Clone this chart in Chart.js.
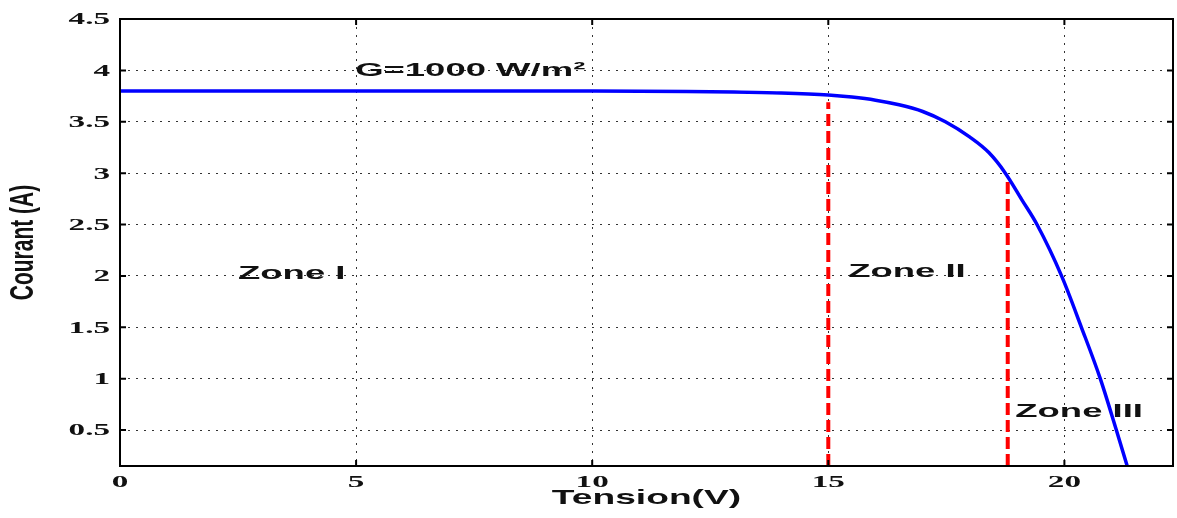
<!DOCTYPE html>
<html>
<head>
<meta charset="utf-8">
<script src="https://cdn.jsdelivr.net/npm/chart.js@4"></script>
<style>
  html, body { margin: 0; padding: 0; background: #fff; }
  #wrap { width: 1177px; height: 518px; }
</style>
</head>
<body>
<div id="wrap"><canvas id="ivChart"></canvas></div>
<script>
// I-V curve
const tension = [0, 5, 10, 12, 13, 14, 15, 15.5, 16, 16.5, 17, 17.48, 18, 18.4, 18.75, 19.1, 19.42, 19.94, 20.36, 20.76, 21.1, 21.33, 21.38];
const courant = [3.8, 3.8, 3.799, 3.795, 3.79, 3.78, 3.76, 3.74, 3.71, 3.665, 3.6, 3.5, 3.35, 3.2, 3.0, 2.74, 2.5, 2.0, 1.5, 1.0, 0.5, 0.15, 0.07];

// zone limits (red dashed lines)
const limitX = [15, 18.8];
const limitTop = [3.69, 2.93];

const xTicks = [0, 5, 10, 15, 20];
const yTicks = [0.5, 1, 1.5, 2, 2.5, 3, 3.5, 4, 4.5];
const xRange = [0, 22.3];
const yRange = [0.15, 4.5];

const labels = [
  { text: "G=1000 W/m²", x: 4.98, y: 4.0 },
  { text: "Zone I", x: 2.5, y: 2.02 },
  { text: "Zone II", x: 15.42, y: 2.04 },
  { text: "Zone III", x: 18.96, y: 0.68 }
];

const curve = tension.map((v, i) => ({ x: v, y: courant[i] }));
const limitSets = limitX.map((v, i) => ({
  data: [{ x: v, y: yRange[0] }, { x: v, y: limitTop[i] }],
  borderColor: "#ff0000",
  borderWidth: 4,
  borderDash: [12, 5],
  pointRadius: 0
}));

// the picture is stretched sideways, so text is too
function wideText(ctx, text, x, y, sx, align) {
  ctx.save();
  ctx.translate(x, y);
  ctx.scale(sx, 1);
  ctx.textAlign = align;
  ctx.fillText(text, 0, 0);
  ctx.restore();
}

const SANS = "'Liberation Sans', Arial, sans-serif";
const SERIF = "'Liberation Serif', 'Times New Roman', serif";

// box, inward ticks, labels and annotations
const framePlugin = {
  id: "frame",
  afterDraw(chart) {
    const ctx = chart.ctx;
    const a = chart.chartArea;
    const xs = chart.scales.x, ys = chart.scales.y;
    ctx.save();
    ctx.strokeStyle = "#000";
    ctx.lineWidth = 2;
    ctx.strokeRect(a.left, a.top, a.right - a.left, a.bottom - a.top);
    ctx.beginPath();
    xTicks.forEach(v => {
      const px = xs.getPixelForValue(v);
      ctx.moveTo(px, a.bottom); ctx.lineTo(px, a.bottom - 6);
      ctx.moveTo(px, a.top); ctx.lineTo(px, a.top + 6);
    });
    yTicks.forEach(v => {
      const py = ys.getPixelForValue(v);
      ctx.moveTo(a.left, py); ctx.lineTo(a.left + 6, py);
      ctx.moveTo(a.right, py); ctx.lineTo(a.right - 6, py);
    });
    ctx.stroke();

    ctx.fillStyle = "#111";
    ctx.textBaseline = "middle";

    // tick labels
    ctx.font = "bold 17px " + SERIF;
    xTicks.forEach(v => wideText(ctx, String(v), xs.getPixelForValue(v), a.bottom + 17, 1.95, "center"));
    yTicks.forEach(v => wideText(ctx, String(v), a.left - 10, ys.getPixelForValue(v) + 1, 1.95, "right"));

    // axis titles
    ctx.font = "bold 21px " + SANS;
    wideText(ctx, "Tension(V)", (a.left + a.right) / 2, a.bottom + 32, 1.77, "center");
    ctx.save();
    ctx.translate(24, (a.top + a.bottom) / 2);
    ctx.rotate(-Math.PI / 2);
    ctx.scale(1, 1.6);
    ctx.textAlign = "center";
    ctx.fillText("Courant (A)", 0, 0);
    ctx.restore();

    // annotations
    ctx.font = "bold 19px " + SANS;
    labels.forEach(l => wideText(ctx, l.text, xs.getPixelForValue(l.x), ys.getPixelForValue(l.y), 1.92, "left"));
    ctx.restore();
  }
};

const gridStyle = { color: "#333", lineWidth: 1, drawTicks: false };
const dotted = { display: false, dash: [2, 6] };

new Chart(document.getElementById("ivChart").getContext("2d"), {
  type: "line",
  data: {
    datasets: [{
      data: curve,
      borderColor: "#0000ff",
      borderWidth: 3.5,
      pointRadius: 0,
      cubicInterpolationMode: "monotone"
    }, ...limitSets]
  },
  options: {
    responsive: true,
    maintainAspectRatio: false,
    animation: false,
    layout: { padding: { top: 19, right: 4, left: 0, bottom: 0 } },
    plugins: {
      legend: { display: false },
      tooltip: { enabled: false }
    },
    scales: {
      x: {
        type: "linear",
        min: xRange[0],
        max: xRange[1],
        afterBuildTicks: s => { s.ticks = xTicks.map(v => ({ value: v })); },
        afterFit: s => { s.height = 52; },
        grid: gridStyle,
        border: dotted,
        ticks: { display: false }
      },
      y: {
        min: yRange[0],
        max: yRange[1],
        afterBuildTicks: s => { s.ticks = yTicks.map(v => ({ value: v })); },
        afterFit: s => { s.width = 120; },
        grid: gridStyle,
        border: dotted,
        ticks: { display: false }
      }
    }
  },
  plugins: [framePlugin]
});
</script>
</body>
</html>
